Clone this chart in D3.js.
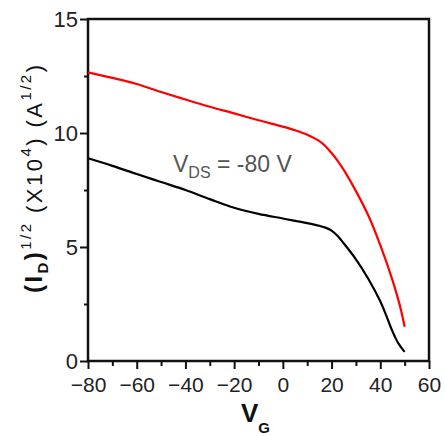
<!DOCTYPE html>
<html>
<head>
<meta charset="utf-8">
<script src="https://cdn.jsdelivr.net/npm/d3@7"></script>
<style>
  html, body { margin: 0; padding: 0; background: #fff; }
  svg { display: block; font-family: Arial, "Liberation Sans", sans-serif; }
</style>
</head>
<body>
<svg id="chart" width="445" height="436"></svg>
<script>
// gate voltage samples (V)
const vgRed = [-80, -70, -60, -50, -40, -30, -20, -10, 0, 5, 10, 15, 17.5, 20, 22.5, 25, 30, 35, 40, 45, 48, 50];
const idRed = [12.66, 12.42, 12.15, 11.8, 11.47, 11.15, 10.86, 10.56, 10.28, 10.12, 9.92, 9.64, 9.42, 9.12, 8.78, 8.38, 7.45, 6.4, 5.08, 3.55, 2.45, 1.5];

const vgBlack = [-80, -70, -60, -50, -40, -30, -20, -10, 0, 10, 15, 17.5, 20, 22.5, 25, 30, 35, 40, 42.5, 45, 47.5, 50];
const idBlack = [8.89, 8.56, 8.2, 7.85, 7.5, 7.1, 6.72, 6.45, 6.25, 6.05, 5.93, 5.85, 5.72, 5.48, 5.16, 4.46, 3.62, 2.62, 1.98, 1.3, 0.76, 0.4];

const xTicks = [-80, -60, -40, -20, 0, 20, 40, 60];
const xMinor = [-70, -50, -30, -10, 10, 30, 50];
const yTicks = [0, 5, 10, 15];
const yMinor = [2.5, 7.5, 12.5];

const margin = { top: 19, left: 88 };
const w = 341, h = 342;

const svg = d3.select('#chart');
const g = svg.append('g').attr('transform', `translate(${margin.left},${margin.top})`);

const x = d3.scaleLinear().domain([-80, 60]).range([0, w]);
const y = d3.scaleLinear().domain([0, 15]).range([h, 0]);

// axes
const xAxis = g.append('g')
  .attr('transform', `translate(0,${h})`)
  .call(d3.axisBottom(x).tickValues(xTicks).tickSize(8).tickPadding(8));
g.append('g')
  .attr('transform', `translate(0,${h})`)
  .call(d3.axisBottom(x).tickValues(xMinor).tickSize(5).tickFormat(''))
  .call(a => a.select('.domain').remove());

const yAxis = g.append('g')
  .call(d3.axisLeft(y).tickValues(yTicks).tickSize(8).tickPadding(2));
g.append('g')
  .call(d3.axisLeft(y).tickValues(yMinor).tickSize(4).tickFormat(''))
  .call(a => a.select('.domain').remove());

svg.selectAll('.tick line').attr('stroke', '#111').attr('stroke-width', 2);
svg.selectAll('.domain').remove();
xAxis.selectAll('text').attr('font-size', 21).attr('fill', '#222').attr('font-family', 'Arial, "Liberation Sans", sans-serif');
yAxis.selectAll('text').attr('font-size', 22).attr('fill', '#222').attr('font-family', 'Arial, "Liberation Sans", sans-serif').attr('dy', '0.36em');

// frame
g.append('rect')
  .attr('width', w).attr('height', h)
  .attr('fill', 'none').attr('stroke', '#111').attr('stroke-width', 2.5);

// curves
const line = d3.line()
  .x(d => x(d[0]))
  .y(d => y(d[1]))
  .curve(d3.curveCatmullRom.alpha(0.5));

g.append('path')
  .datum(d3.zip(vgRed, idRed))
  .attr('fill', 'none').attr('stroke', '#ff0000').attr('stroke-width', 2.2)
  .attr('d', line);

g.append('path')
  .datum(d3.zip(vgBlack, idBlack))
  .attr('fill', 'none').attr('stroke', '#000').attr('stroke-width', 2.2)
  .attr('d', line);

// annotation
const ann = svg.append('text')
  .attr('x', 173).attr('y', 172)
  .attr('fill', '#555').attr('font-size', 23);
ann.append('tspan').text('V');
ann.append('tspan').attr('font-size', 16).attr('dy', 6).text('DS');
ann.append('tspan').attr('dy', -6).text(' = -80 V');

// x title
const xt = svg.append('text')
  .attr('x', 241).attr('y', 422)
  .attr('font-weight', 'bold').attr('fill', '#111').attr('font-size', 26);
xt.append('tspan').text('V');
xt.append('tspan').attr('font-size', 15).attr('dy', 11).text('G');

// y title
const yt = svg.append('text')
  .attr('transform', 'translate(42,293) rotate(-90)')
  .attr('fill', '#111').attr('font-size', 22)
  .attr('textLength', 228).attr('lengthAdjust', 'spacing');
yt.append('tspan').attr('font-weight', 'bold').attr('font-size', 24).text('(I');
yt.append('tspan').attr('font-weight', 'bold').attr('font-size', 15).attr('dy', 6).text('D');
yt.append('tspan').attr('font-weight', 'bold').attr('font-size', 24).attr('dy', -6).text(')');
yt.append('tspan').attr('font-size', 15).attr('dy', -11).text('1/2');
yt.append('tspan').attr('dy', 11).text(' (X10');
yt.append('tspan').attr('font-size', 15).attr('dy', -11).text('4');
yt.append('tspan').attr('dy', 11).text(') (A');
yt.append('tspan').attr('font-size', 15).attr('dy', -11).text('1/2');
yt.append('tspan').attr('dy', 11).text(')');
</script>
</body>
</html>
